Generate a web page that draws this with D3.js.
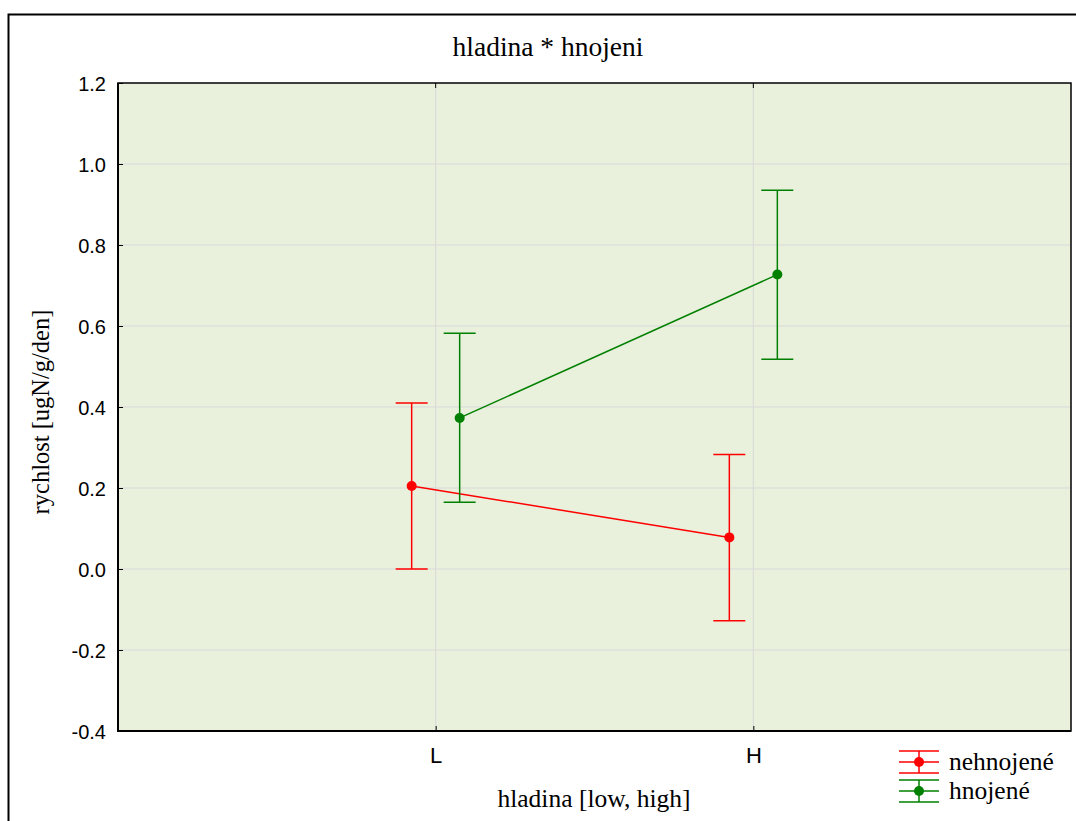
<!DOCTYPE html>
<html><head><meta charset="utf-8">
<script src="https://cdn.jsdelivr.net/npm/d3@7"></script>
<style>body{margin:0;background:#fff}svg{display:block}</style>
</head><body><svg id="c" width="1076" height="821"></svg>
<script>
const categories = ["L", "H"];
const seriesNames = ["nehnojené", "hnojené"];
const seriesColors = ["#ff0000", "#008000"];
const meansNehnojene = [0.205, 0.078];
const lowNehnojene = [0.000, -0.128];
const highNehnojene = [0.410, 0.283];
const meansHnojene = [0.373, 0.727];
const lowHnojene = [0.165, 0.518];
const highHnojene = [0.582, 0.935];
const yTicks = [-0.4, -0.2, 0.0, 0.2, 0.4, 0.6, 0.8, 1.0, 1.2];

const series = [
  {name: seriesNames[0], color: seriesColors[0], mean: meansNehnojene, lo: lowNehnojene, hi: highNehnojene, off: -24},
  {name: seriesNames[1], color: seriesColors[1], mean: meansHnojene, lo: lowHnojene, hi: highHnojene, off: 24}
];

const svg = d3.select("#c");
const L = 118, R = 1071, T = 83, B = 731;
const sans = "'Liberation Sans', Arial, sans-serif";
const serif = "'Liberation Serif', 'Times New Roman', serif";

// outer frame
svg.append("rect").attr("x", 8.5).attr("y", 14.5).attr("width", 1100).attr("height", 900)
  .attr("fill", "none").attr("stroke", "#000").attr("stroke-width", 2);

const x = d3.scalePoint().domain(["", ...categories, " "]).range([L, R]);
const y = d3.scaleLinear().domain([-0.4, 1.2]).range([B, T]);

svg.append("rect").attr("x", L).attr("y", T).attr("width", R - L).attr("height", B - T).attr("fill", "#e9f0dc");

// grid
const g = svg.append("g");
g.selectAll(".hg").data(yTicks.slice(1, -1)).join("line")
  .attr("x1", L).attr("x2", R).attr("y1", d => y(d)).attr("y2", d => y(d))
  .attr("stroke", "#d9d9d9").attr("stroke-width", 1);
g.selectAll(".vg").data(categories).join("line")
  .attr("x1", d => x(d)).attr("x2", d => x(d)).attr("y1", T).attr("y2", B)
  .attr("stroke", "#d9d9d9").attr("stroke-width", 1);

// axes
const fmt = d => d3.format(".1f")(d).replace("\u2212", "-");
const yAxis = svg.append("g").attr("transform", `translate(${L},0)`)
  .call(d3.axisLeft(y).tickValues(yTicks).tickFormat(fmt).tickSize(-5).tickPadding(12));
yAxis.attr("font-family", sans).attr("font-size", 20);
yAxis.select(".domain").remove();
yAxis.selectAll("text").attr("fill", "#000").attr("dy", "0.36em");
yAxis.selectAll("line").attr("stroke", "#000");

const xAxis = svg.append("g").attr("transform", `translate(0,${B})`)
  .call(d3.axisBottom(x).tickValues(categories).tickSize(-5).tickPadding(16));
xAxis.attr("font-family", sans).attr("font-size", 22);
xAxis.select(".domain").remove();
xAxis.selectAll("text").attr("fill", "#000");
xAxis.selectAll("line").attr("stroke", "#000");
// top ticks
svg.selectAll(".tt").data(categories).join("line")
  .attr("x1", d => x(d)).attr("x2", d => x(d)).attr("y1", T).attr("y2", T + 5).attr("stroke", "#000");

// frame
svg.append("rect").attr("x", L).attr("y", T).attr("width", R - L).attr("height", B - T)
  .attr("fill", "none").attr("stroke", "#000").attr("stroke-width", 1.5);
svg.append("line").attr("x1", L).attr("x2", L).attr("y1", T).attr("y2", B + 1).attr("stroke", "#000").attr("stroke-width", 2);
svg.append("line").attr("x1", L).attr("x2", R).attr("y1", B).attr("y2", B).attr("stroke", "#000").attr("stroke-width", 2);

// series
const cap = 16;
series.forEach(s => {
  const gs = svg.append("g");
  const pts = categories.map((c, i) => ({x: x(c) + s.off, m: s.mean[i], lo: s.lo[i], hi: s.hi[i]}));
  gs.append("path").attr("d", d3.line().x(d => d.x).y(d => y(d.m))(pts))
    .attr("fill", "none").attr("stroke", s.color).attr("stroke-width", 1.5);
  pts.forEach(p => {
    gs.append("line").attr("x1", p.x).attr("x2", p.x).attr("y1", y(p.lo)).attr("y2", y(p.hi)).attr("stroke", s.color).attr("stroke-width", 1.5);
    [p.lo, p.hi].forEach(v => gs.append("line").attr("x1", p.x - cap).attr("x2", p.x + cap)
      .attr("y1", y(v)).attr("y2", y(v)).attr("stroke", s.color).attr("stroke-width", 1.5));
    gs.append("circle").attr("cx", p.x).attr("cy", y(p.m)).attr("r", 5).attr("fill", s.color);
  });
});

// titles
svg.append("text").attr("x", 548).attr("y", 56).attr("text-anchor", "middle")
  .attr("font-family", serif).attr("font-size", 27.5).text("hladina * hnojeni");
svg.append("text").attr("x", 594).attr("y", 807).attr("text-anchor", "middle")
  .attr("font-family", serif).attr("font-size", 25.5).text("hladina [low, high]");
svg.append("text").attr("transform", "translate(49,412) rotate(-90)").attr("text-anchor", "middle")
  .attr("font-family", serif).attr("font-size", 24.5).text("rychlost [ugN/g/den]");

// legend
series.forEach((s, i) => {
  const cy = 762 + i * 29;
  const lg = svg.append("g");
  [-11, 0, 11].forEach(dy => lg.append("line").attr("x1", 899).attr("x2", 939)
    .attr("y1", cy + dy).attr("y2", cy + dy).attr("stroke", s.color).attr("stroke-width", 1.5));
  lg.append("line").attr("x1", 919).attr("x2", 919).attr("y1", cy - 11).attr("y2", cy + 11).attr("stroke", s.color).attr("stroke-width", 1.5);
  lg.append("circle").attr("cx", 919).attr("cy", cy).attr("r", 5).attr("fill", s.color);
  lg.append("text").attr("x", 949).attr("y", cy + 8).attr("font-family", serif).attr("font-size", 25.5).text(s.name);
});
</script></body></html>
